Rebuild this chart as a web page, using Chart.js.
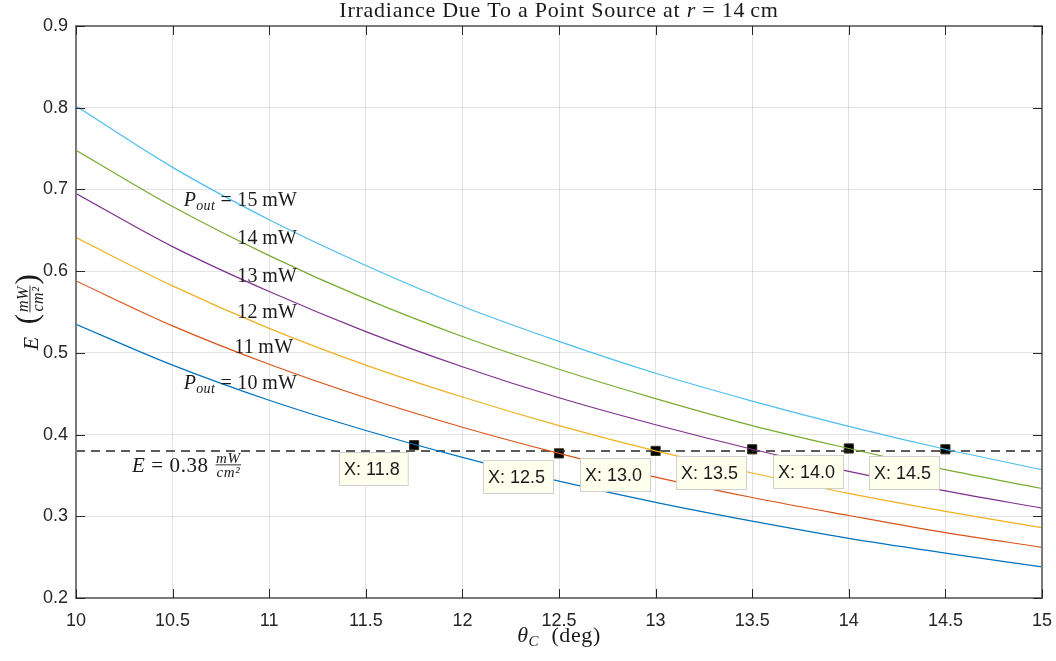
<!DOCTYPE html>
<html>
<head>
<meta charset="utf-8">
<script src="https://cdn.jsdelivr.net/npm/chart.js@4.4.1/dist/chart.umd.min.js"></script>
<style>
  body { margin: 0; background: #fff; }
  #wrap { width: 1056px; height: 661px; }
</style>
</head>
<body>
<div id="wrap"><canvas id="irrChart" width="1056" height="661"></canvas></div>
<script>
// theta_C in degrees, sampled every 0.5 deg
const thetaDeg = [10, 10.5, 11, 11.5, 12, 12.5, 13, 13.5, 14, 14.5, 15];

// irradiance E (mW/cm^2)
const e10 = [0.535, 0.485, 0.442, 0.405, 0.372, 0.343, 0.317, 0.294, 0.273, 0.255, 0.238];
const e11 = [0.588, 0.533, 0.486, 0.445, 0.409, 0.377, 0.348, 0.323, 0.301, 0.280, 0.262];
const e12 = [0.641, 0.582, 0.530, 0.485, 0.446, 0.411, 0.380, 0.353, 0.328, 0.306, 0.286];
const e13 = [0.695, 0.630, 0.575, 0.526, 0.483, 0.445, 0.412, 0.382, 0.355, 0.331, 0.310];
const e14 = [0.748, 0.679, 0.619, 0.566, 0.520, 0.480, 0.444, 0.411, 0.383, 0.357, 0.334];
const e15 = [0.802, 0.727, 0.663, 0.607, 0.557, 0.514, 0.475, 0.441, 0.410, 0.382, 0.357];
const powerLabels = ['10', '11', '12', '13', '14', '15'];

// threshold line
const threshX = [10, 15];
const threshE = 0.38;

// data tips
const tipX = [11.75, 12.5, 13, 13.5, 14, 14.5];
const tipY = [0.387, 0.377, 0.380, 0.382, 0.383, 0.382];

const xTicks = [10, 10.5, 11, 11.5, 12, 12.5, 13, 13.5, 14, 14.5, 15];
const yTicks = [0.2, 0.3, 0.4, 0.5, 0.6, 0.7, 0.8, 0.9];

const colors = ['#0072BD', '#D95319', '#EDB120', '#7E2F8E', '#77AC30', '#4DBEEE'];
const series = [e10, e11, e12, e13, e14, e15];

const SERIF = '"Liberation Serif", "DejaVu Serif", serif';
const SANS = '"Liberation Sans", Arial, sans-serif';
const TEXT = '#1a1a1a';

function fontOf(italic, size) {
    return (italic ? 'italic ' : '') + size + 'px ' + SERIF;
}

function partWidth(ctx, p) {
    ctx.font = fontOf(p.i, p.size);
    if (p.num) {
        return Math.max(ctx.measureText(p.num).width, ctx.measureText(p.den).width) + 3;
    }
    return ctx.measureText(p.t).width;
}

// draws a run of text pieces (italic / subscript / fraction) on one baseline
function drawRich(ctx, parts, x, y, align, spacing) {
    ctx.letterSpacing = (spacing || 0) + 'px';
    let total = 0;
    parts.forEach(p => { total += partWidth(ctx, p); });
    let cx = align === 'center' ? x - total / 2 : (align === 'right' ? x - total : x);
    ctx.textBaseline = 'alphabetic';
    ctx.fillStyle = TEXT;
    parts.forEach(p => {
        const w = partWidth(ctx, p);
        ctx.font = fontOf(p.i, p.size);
        if (p.num) {
            const barY = y - p.bar;
            ctx.textAlign = 'center';
            ctx.fillText(p.num, cx + w / 2, barY - 2);
            ctx.fillText(p.den, cx + w / 2, barY + p.size * 0.72 + 1);
            ctx.fillRect(cx + 1, barY - 0.5, w - 2, 0.9);
            ctx.textAlign = 'left';
        } else {
            ctx.textAlign = 'left';
            ctx.fillText(p.t, cx, y + (p.dy || 0));
        }
        cx += w;
    });
    ctx.letterSpacing = '0px';
}

const annotations = {
    id: 'annotations',
    afterDatasetsDraw(chart) {
        const ctx = chart.ctx;
        const xs = chart.scales.x, ys = chart.scales.y;
        const area = chart.chartArea;
        ctx.save();

        // data tip boxes
        tipX.forEach((tx, i) => {
            const px = xs.getPixelForValue(tx);
            const py = ys.getPixelForValue(tipY[i]);
            const label = 'X: ' + tx.toFixed(1);
            ctx.font = '18px ' + SANS;
            const w = ctx.measureText(label).width + 13;
            const h = 33;
            const bx = Math.round(px - 6 - w) + 0.5;
            const by = Math.round(py + 7) + 0.5;
            ctx.fillStyle = '#FFFFEE';
            ctx.fillRect(bx, by, w, h);
            ctx.strokeStyle = '#cfcfcf';
            ctx.lineWidth = 1;
            ctx.strokeRect(bx, by, w, h);
            ctx.fillStyle = '#1a1a1a';
            ctx.textAlign = 'left';
            ctx.textBaseline = 'middle';
            ctx.fillText(label, bx + 4.5, by + h / 2 + 1);
        });

        // frame and inward ticks
        ctx.strokeStyle = '#7a7a7a';
        ctx.lineWidth = 2;
        ctx.strokeRect(area.left, area.top, area.right - area.left, area.bottom - area.top);
        ctx.strokeStyle = '#262626';
        ctx.lineWidth = 1;
        ctx.beginPath();
        xTicks.forEach(v => {
            const px = Math.round(xs.getPixelForValue(v)) + 0.5;
            ctx.moveTo(px, area.bottom); ctx.lineTo(px, area.bottom - 9);
            ctx.moveTo(px, area.top); ctx.lineTo(px, area.top + 9);
        });
        yTicks.forEach(v => {
            const py = Math.round(ys.getPixelForValue(v)) + 0.5;
            ctx.moveTo(area.left, py); ctx.lineTo(area.left + 9, py);
            ctx.moveTo(area.right, py); ctx.lineTo(area.right - 9, py);
        });
        ctx.stroke();

        // curve labels
        const labelAt = [
            { x: 11.145, y: 0.4558 },
            { x: 11.125, y: 0.4999 },
            { x: 11.145, y: 0.5427 },
            { x: 11.145, y: 0.5868 },
            { x: 11.145, y: 0.6333 },
            { x: 11.145, y: 0.6798 }
        ];
        powerLabels.forEach((lab, i) => {
            const px = xs.getPixelForValue(labelAt[i].x);
            const py = ys.getPixelForValue(labelAt[i].y);
            let parts = [{ t: lab, size: 20 }, { t: '\u2009mW', size: 20 }];
            if (i === 0 || i === powerLabels.length - 1) {
                parts = [{ t: 'P', i: true, size: 20 }, { t: 'out', i: true, size: 14, dy: 4 },
                         { t: ' = ', size: 20 }].concat(parts);
            }
            drawRich(ctx, parts, px, py, 'right', 0.3);
        });

        // threshold label
        drawRich(ctx, [
            { t: 'E', i: true, size: 21 }, { t: ' = 0.38 ', size: 21 },
            { num: 'mW', den: 'cm\u00B2', i: true, size: 15, bar: 7 }
        ], 132, ys.getPixelForValue(threshE) + 21, 'left', 0.6);

        // title
        drawRich(ctx, [
            { t: 'Irradiance Due To a Point Source at ', size: 22 },
            { t: 'r', i: true, size: 22 },
            { t: ' = 14\u2009cm', size: 22 }
        ], (area.left + area.right) / 2, 17, 'center', 0.75);

        // x axis title
        drawRich(ctx, [
            { t: '\u03B8', i: true, size: 22 }, { t: 'C', i: true, size: 15, dy: 4 },
            { t: '  (deg)', size: 22 }
        ], (area.left + area.right) / 2, 642, 'center', 0.6);

        // y axis title
        ctx.translate(38, (area.top + area.bottom) / 2);
        ctx.rotate(-Math.PI / 2);
        drawRich(ctx, [
            { t: 'E', i: true, size: 22 }, { t: '  ', size: 22 },
            { t: '(', size: 31, dy: -1 },
            { num: 'mW', den: 'cm\u00B2', i: true, size: 16, bar: 8 },
            { t: ')', size: 31, dy: -1 }
        ], 0, 0, 'center', 0.5);

        ctx.restore();
    }
};

const datasets = series.map((vals, k) => ({
    data: thetaDeg.map((x, i) => ({ x: x, y: vals[i] })),
    borderColor: colors[k],
    borderWidth: 1.2,
    pointRadius: 0,
    cubicInterpolationMode: 'monotone',
    fill: false
}));

datasets.push({
    data: threshX.map(x => ({ x: x, y: threshE })),
    borderColor: '#262626',
    borderWidth: 1.5,
    borderDash: [9, 6],
    pointRadius: 0,
    fill: false
});

datasets.push({
    type: 'scatter',
    data: tipX.map((x, i) => ({ x: x, y: tipY[i] })),
    pointStyle: 'rect',
    pointRadius: 6.5,
    backgroundColor: '#000',
    borderColor: '#3a3a20',
    borderWidth: 1,
    showLine: false
});

const ctx = document.getElementById('irrChart').getContext('2d');
new Chart(ctx, {
    type: 'line',
    data: { datasets: datasets },
    options: {
        responsive: false,
        animation: false,
        layout: { padding: { top: 26, right: 14, left: 0, bottom: 0 } },
        plugins: { legend: { display: false }, tooltip: { enabled: false }, title: { display: false } },
        scales: {
            x: {
                type: 'linear', min: 10, max: 15,
                afterBuildTicks: s => { s.ticks = xTicks.map(v => ({ value: v })); },
                ticks: { color: '#262626', padding: 12, maxRotation: 0, autoSkip: false,
                         font: { family: SANS, size: 18 }, callback: v => String(v) },
                grid: { color: 'rgba(38,38,38,0.13)', drawTicks: false },
                border: { display: false },
                afterFit: s => { s.height = 63; s.paddingRight = 0; s.paddingLeft = 0; }
            },
            y: {
                type: 'linear', min: 0.2, max: 0.9,
                afterBuildTicks: s => { s.ticks = yTicks.map(v => ({ value: v })); },
                ticks: { color: '#262626', padding: 8, font: { family: SANS, size: 18 },
                         callback: v => v.toFixed(1) },
                grid: { color: 'rgba(38,38,38,0.13)', drawTicks: false },
                border: { display: false },
                afterFit: s => { s.width = 76; s.paddingTop = 0; s.paddingBottom = 0; }
            }
        }
    },
    plugins: [annotations]
});
</script>
</body>
</html>
